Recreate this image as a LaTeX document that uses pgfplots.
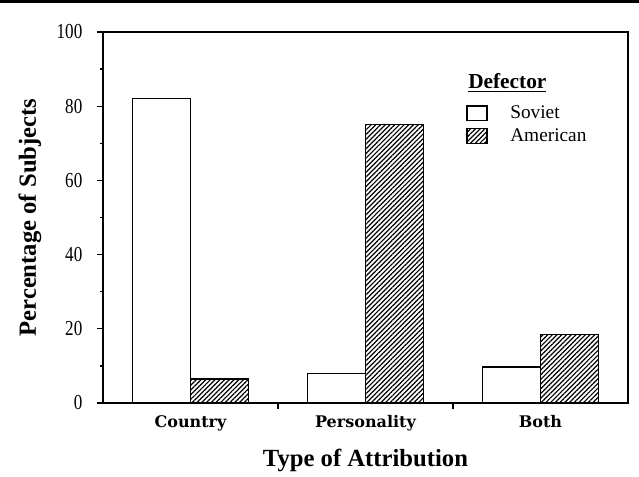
\documentclass[border=0pt]{standalone}
\usepackage{pgfplots}
\pgfplotsset{compat=1.18}
\usetikzlibrary{patterns.meta}
\usepackage{fontspec}
\setmainfont{Liberation Serif}
\newfontfamily\catfont{DejaVu Serif}
\newfontfamily\tickfont[FakeStretch=0.8]{Liberation Serif}
\begin{document}
\begin{tikzpicture}
\begin{axis}[
  name=ax,
  scale only axis,
  width=393.75pt, height=278.25pt,
  xmin=-0.5, xmax=2.5, ymin=0, ymax=100,
  ybar=0pt, bar width=43.5pt,
  axis line style={line width=1pt},
  tick pos=left,
  tick align=outside,
  major tick length=4.5pt,
  minor tick length=2pt,
  tick style={line width=1pt, black},
  xtick={0.5,1.5},
  xticklabels={},
  extra x ticks={0,1,2},
  extra x tick labels={Country,Personality,Both},
  extra x tick style={major tick length=0pt},
  xticklabel style={font=\catfont\bfseries\fontsize{12}{14}\selectfont, anchor=base, yshift=-18.75pt},
  ytick={0,20,40,60,80,100},
  minor y tick num=1,
  yticklabel style={font=\tickfont\fontsize{16}{18}\selectfont, xshift=-7.5pt},
  /pgf/number format/assume math mode=true,
  xlabel={Type of Attribution},
  ylabel={Percentage of Subjects},
  xlabel style={font=\bfseries\fontsize{18.5}{20}\selectfont, at={(rel axis cs:0.5,-0.1725)}, anchor=base},
  ylabel style={font=\bfseries\fontsize{18.5}{20}\selectfont, at={(rel axis cs:-0.139,0.5)}, anchor=center, rotate=0},
  legend cell align=left,
  legend style={draw=none, fill=none, inner sep=0pt, at={(rel axis cs:0.6914,0.809)}, anchor=north west,
    font=\fontsize{14.5}{16}\selectfont, row sep=2pt,
    /tikz/every odd column/.append style={column sep=15pt}},
]
\addplot[draw=black, fill=white, line width=1pt,
  legend image code/.code={\draw[line width=1pt, draw=black, fill=white] (0pt,-5.5pt) rectangle (15pt,5.5pt);}]
  coordinates {(0,82) (1,8) (2,9.7)};
\addlegendentry{Soviet}
\addplot[draw=black, line width=1pt, pattern={Lines[angle=45, distance=2.5pt, line width=0.9pt]},
  legend image code/.code={\draw[line width=1pt, draw=black, pattern={Lines[angle=45, distance=2.5pt, line width=0.9pt]}] (0pt,-5.5pt) rectangle (15pt,5.5pt);}]
  coordinates {(0,6.5) (1,75) (2,18.5)};
\addlegendentry{American}
\end{axis}
\node[anchor=base west, inner sep=0pt, font=\bfseries\fontsize{16}{18}\selectfont] at ([xshift=273.75pt, yshift=235.5pt]ax.south west) {\underline{Defector}};
\draw[line width=2.25pt] ([xshift=-77.25pt,yshift=22.5pt]ax.north west) -- ([xshift=8.25pt,yshift=22.5pt]ax.north east);
\pgfresetboundingbox
\path ([xshift=-77.25pt,yshift=-55.5pt]ax.south west) rectangle ([xshift=8.25pt,yshift=24pt]ax.north east);
\end{tikzpicture}
\end{document}
